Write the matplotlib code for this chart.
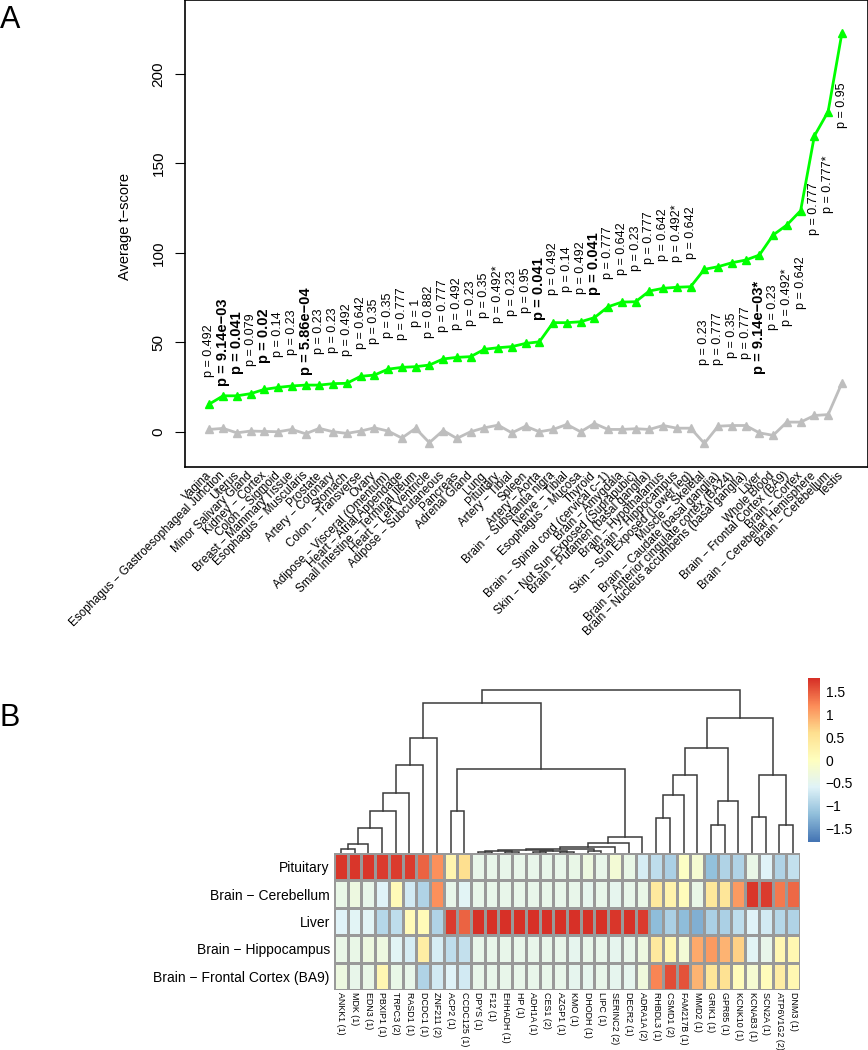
import numpy as np
import matplotlib
matplotlib.use("Agg")
import matplotlib.pyplot as plt
from matplotlib.colors import LinearSegmentedColormap

plt.rcParams['font.family'] = ['Liberation Sans', 'DejaVu Sans']

# ---------------- panel A data ----------------
tissues = [
    "Vagina", "Esophagus − Gastroesophageal Junction", "Uterus", "Minor Salivary Gland",
    "Kidney − Cortex", "Colon − Sigmoid", "Breast − Mammary Tissue", "Esophagus − Muscularis",
    "Prostate", "Artery − Coronary", "Stomach", "Colon − Transverse", "Ovary",
    "Adipose − Visceral (Omentum)", "Heart − Atrial Appendage", "Small Intestine − Terminal Ileum",
    "Heart − Left Ventricle", "Adipose − Subcutaneous", "Pancreas", "Adrenal Gland", "Lung",
    "Pituitary", "Artery − Tibial", "Spleen", "Artery − Aorta", "Brain − Substantia nigra",
    "Nerve − Tibial", "Esophagus − Mucosa", "Thyroid", "Brain − Spinal cord (cervical c−1)",
    "Brain − Amygdala", "Skin − Not Sun Exposed (Suprapubic)", "Brain − Putamen (basal ganglia)",
    "Brain − Hypothalamus", "Brain − Hippocampus", "Skin − Sun Exposed (Lower leg)",
    "Muscle − Skeletal", "Brain − Caudate (basal ganglia)",
    "Brain − Anterior cingulate cortex (BA24)", "Brain − Nucleus accumbens (basal ganglia)",
    "Liver", "Whole Blood", "Brain − Frontal Cortex (BA9)", "Brain − Cortex",
    "Brain − Cerebellar Hemisphere", "Brain − Cerebellum", "Testis",
]
tscore = [15.5, 20.1, 20.1, 21.3, 23.7, 24.8, 25.6, 26.1, 26.1, 26.9, 27.1, 31.0, 31.7,
          35.0, 36.0, 36.4, 37.3, 40.7, 41.6, 42.0, 46.1, 47.0, 47.6, 49.4, 50.3, 61.0,
          61.0, 61.5, 63.8, 69.9, 72.5, 72.7, 78.7, 80.2, 80.8, 81.1, 90.8, 92.3, 94.5,
          96.0, 98.8, 110.0, 115.6, 123.6, 165.4, 179.0, 222.8]
tscore_null = [1.3, 1.9, -0.6, 0.4, 0.2, 0.0, 1.3, -1.1, 1.9, 0.0, -0.9, 0.4, 2.2, 0.4,
               -3.5, 1.9, -6.1, 0.7, -3.7, 0.0, 2.2, 3.7, -0.6, 3.1, 0.0, 1.3, 4.1, 0.0,
               4.6, 1.3, 1.3, 1.7, 1.3, 3.5, 2.0, 2.0, -6.5, 3.1, 3.5, 3.5, -0.6, -2.0,
               5.4, 5.4, 9.1, 9.6, 27.2]
p_labels = ["p = 0.492", "p = 9.14e−03", "p = 0.041", "p = 0.079", "p = 0.02", "p = 0.14",
            "p = 0.23", "p = 5.86e−04", "p = 0.23", "p = 0.23", "p = 0.492", "p = 0.642",
            "p = 0.35", "p = 0.35", "p = 0.777", "p = 1", "p = 0.882", "p = 0.777",
            "p = 0.492", "p = 0.23", "p = 0.35", "p = 0.492*", "p = 0.23", "p = 0.95",
            "p = 0.041", "p = 0.492", "p = 0.14", "p = 0.492", "p = 0.041", "p = 0.777",
            "p = 0.642", "p = 0.23", "p = 0.777", "p = 0.642", "p = 0.492*", "p = 0.642",
            "p = 0.23", "p = 0.777", "p = 0.35", "p = 0.777", "p = 9.14e−03*", "p = 0.23",
            "p = 0.492*", "p = 0.642", "p = 0.777", "p = 0.777*", "p = 0.95"]
p_bold = [1, 2, 4, 7, 24, 28, 40]
n_above = 36

# ---------------- panel B data ----------------
genes = ["ANKK1 (1)", "MDK (1)", "EDN3 (1)", "PBXIP1 (1)", "TRPC3 (2)", "RASD1 (1)",
         "DCDC1 (1)", "ZNF211 (2)", "ACP2 (1)", "CCDC125 (1)", "DPYS (1)", "F12 (1)",
         "EHHADH (1)", "HP (1)", "ADH1A (1)", "CES1 (2)", "AZGP1 (1)", "KMO (1)",
         "DHODH (1)", "LIPC (1)", "SERINC2 (2)", "DECR2 (1)", "ADRA1A (2)", "RHBDL3 (1)",
         "CSMD1 (2)", "FAM217B (1)", "MMD2 (1)", "GRIK1 (1)", "GPR85 (1)", "KCNK10 (1)",
         "KCNAB3 (1)", "SCN2A (1)", "ATP6V1G2 (2)", "DNM3 (1)"]
heat_rows = ["Pituitary", "Brain − Cerebellum", "Liver", "Brain − Hippocampus",
             "Brain − Frontal Cortex (BA9)"]
z_pituitary = [1.75, 1.75, 1.75, 1.7, 1.7, 1.7, 1.45, 1.15, 0.2, 0.6,
               -0.45, -0.45, -0.45, -0.45, -0.45, -0.45, -0.45, -0.4, -0.35, -0.45,
               -0.25, -0.4, -0.65, -0.85, -1.0, -0.05, -0.2, -1.15, -0.95, -0.95,
               -0.4, -0.6, -0.95, -0.8]
z_cerebellum = [-0.4, -0.35, -0.45, -0.6, 0.1, -0.7, -0.95, 1.15, -0.45, -0.55,
                -0.45, -0.45, -0.45, -0.45, -0.45, -0.45, -0.45, -0.45, -0.5, -0.45,
                -0.5, -0.45, -0.4, 0.4, 0.25, 0.05, -0.4, 0.45, 0.5, 1.1,
                1.75, 1.7, 1.3, 1.4]
z_liver = [-0.6, -0.55, -0.55, -0.9, -0.85, 0.1, 0.1, -0.95, 1.7, 1.45,
           1.79, 1.79, 1.79, 1.79, 1.79, 1.79, 1.79, 1.79, 1.78, 1.79,
           1.75, 1.78, 1.7, -1.2, -1.0, -1.2, -1.3, -1.0, -1.0, -0.85,
           -0.6, -0.7, -0.9, -0.95]
z_hippocampus = [-0.4, -0.4, -0.35, -0.35, -0.55, -0.65, 0.35, -0.65, -0.85, -0.8,
                 -0.45, -0.45, -0.45, -0.45, -0.45, -0.45, -0.45, -0.47, -0.45, -0.45,
                 -0.5, -0.45, -0.35, 0.4, 0.15, -0.25, 1.0, 1.1, 0.9, 0.7,
                 -0.55, -0.45, 0.15, 0.15]
z_frontal = [-0.35, -0.45, -0.4, 0.15, -0.4, -0.45, -0.95, -0.7, -0.6, -0.7,
             -0.45, -0.45, -0.45, -0.45, -0.45, -0.45, -0.45, -0.47, -0.48, -0.45,
             -0.5, -0.48, -0.3, 1.25, 1.6, 1.55, 0.9, 0.5, 0.55, 0.05,
             -0.2, 0.05, 0.35, 0.15]
# column dendrogram: (left, right, height); ids >= 34 are earlier merges
merges = [
    (0, 1, 4), (34, 2, 9), (35, 3, 25), (36, 4, 42), (37, 5, 60), (38, 6, 88), (39, 7, 115),
    (8, 9, 42), (10, 11, 1.0), (12, 13, 0.8), (42, 43, 1.6), (14, 15, 1.1), (16, 17, 1.4),
    (45, 46, 2.0), (44, 47, 2.8), (18, 19, 2.4), (48, 49, 4.0), (50, 20, 6.5), (51, 21, 10),
    (52, 22, 16), (41, 53, 84), (40, 54, 150), (23, 24, 35), (56, 25, 58), (57, 26, 78),
    (27, 28, 28), (59, 29, 52), (58, 60, 105), (30, 31, 36), (32, 33, 28), (62, 63, 78),
    (61, 64, 135), (55, 65, 163),
]
cbar_ticks = [1.5, 1, 0.5, 0, -0.5, -1, -1.5]

W, H = 868, 1050
fig = plt.figure(figsize=(W / 100, H / 100), dpi=100)


def box(x0, y0, x1, y1):
    return [x0 / W, 1 - y1 / H, (x1 - x0) / W, (y1 - y0) / H]


# ---------------- panel A ----------------
ax = fig.add_axes(box(185, 0, 868, 467))
xs = np.arange(1, len(tissues) + 1)
ax.plot(xs, tscore_null, color="#BEBEBE", lw=2, marker="^", ms=6, mec="#BEBEBE")
ax.plot(xs, tscore, color="#00FF00", lw=2, marker="^", ms=6, mec="#00FF00")
ax.set_xlim(-0.77, 48.9)
ax.set_ylim(-19.7, 241.4)
for i, (x, y, lab) in enumerate(zip(xs, tscore, p_labels)):
    yy = y + 30 if i < n_above else y - 40.5
    bold = i in p_bold
    ax.text(x, yy, lab, rotation=90, ha="center", va="center",
            fontsize=10.5 if bold else 9, fontweight="bold" if bold else "normal")
ax.set_yticks([0, 50, 100, 150, 200])
ax.tick_params(axis="y", length=7, pad=7, labelsize=11)
plt.setp(ax.get_yticklabels(), rotation=90, va="center")
ax.set_xticks(xs)
ax.set_xticklabels(tissues, rotation=45, ha="right", va="center",
                   rotation_mode="anchor", fontsize=8.4)
ax.tick_params(axis="x", length=0, pad=5)
for s in ax.spines.values():
    s.set_linewidth(1.2)
fig.text(125 / W, 1 - 226 / H, "Average t−score", rotation=90, ha="center",
         va="center", fontsize=10.5)
fig.text(0, 1 - 20 / H, "A", fontsize=22, ha="left", va="center")
fig.text(0, 1 - 718 / H, "B", fontsize=22, ha="left", va="center")

# ---------------- panel B heatmap ----------------
z = np.array([z_pituitary, z_cerebellum, z_liver, z_hippocampus, z_frontal])
zmax = 1.789
cmap = LinearSegmentedColormap.from_list(
    "rdylbu", ["#4575B4", "#91BFDB", "#E0F3F8", "#FFFFBF", "#FEE090", "#FC8D59", "#D73027"],
    N=100)
hx0, hx1, hy0, hy1 = 334, 800, 853, 990
axh = fig.add_axes(box(hx0, hy0, hx1, hy1))
axh.pcolormesh(np.arange(len(genes) + 1), np.arange(len(heat_rows) + 1), z,
               cmap=cmap, vmin=-zmax, vmax=zmax, edgecolors="#999999", linewidth=1)
axh.set_xlim(0, len(genes))
axh.set_ylim(len(heat_rows), 0)
axh.set_xticks(np.arange(len(genes)) + 0.5)
axh.set_xticklabels(genes, rotation=270, ha="center", va="top", fontsize=6.4)
axh.set_yticks(np.arange(len(heat_rows)) + 0.5)
axh.set_yticklabels(heat_rows, fontsize=10)
axh.tick_params(axis="y", length=0, pad=3)
axh.tick_params(axis="x", length=0, pad=1.5)
for s in axh.spines.values():
    s.set_visible(False)

# ---------------- dendrogram ----------------
axd = fig.add_axes(box(hx0, 689, hx1, hy0))
pos = {i: i + 0.5 for i in range(len(genes))}
hgt = {i: 0.0 for i in range(len(genes))}
for k, (a, b, h) in enumerate(merges):
    nid = len(genes) + k
    xa, xb = pos[a], pos[b]
    axd.plot([xa, xa, xb, xb], [hgt[a], h, h, hgt[b]], color="#3a3a3a", lw=1.1,
             solid_joinstyle="miter")
    pos[nid] = (xa + xb) / 2
    hgt[nid] = h
axd.set_xlim(0, len(genes))
axd.set_ylim(0, 164)
axd.axis("off")

# ---------------- colour key ----------------
axc = fig.add_axes(box(808, 678, 820, 842))
grad = np.linspace(-zmax, zmax, 100).reshape(-1, 1)
axc.imshow(grad, cmap=cmap, aspect="auto", origin="lower",
           extent=[0, 1, -zmax, zmax], vmin=-zmax, vmax=zmax)
axc.set_ylim(-zmax, zmax)
axc.set_xticks([])
axc.yaxis.tick_right()
axc.set_yticks(cbar_ticks)
axc.set_yticklabels([("%g" % t).replace("-", "−") for t in cbar_ticks], fontsize=10)
axc.tick_params(axis="y", length=0, pad=4)
for s in axc.spines.values():
    s.set_visible(False)

fig.savefig("out.png", dpi=100)
